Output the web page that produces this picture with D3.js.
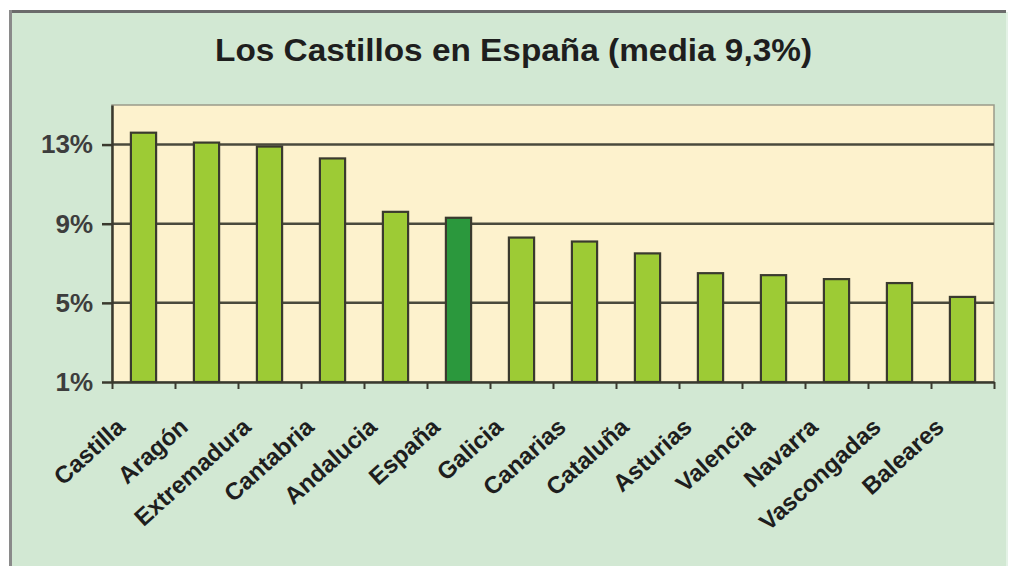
<!DOCTYPE html>
<html lang="es">
<head>
    <meta charset="UTF-8">
    <title>Los Castillos en España</title>
    <script src="https://d3js.org/d3.v7.min.js"></script>
    <style>
        body { margin: 0; background: #ffffff; }
        svg text { font-family: "Liberation Sans", Arial, sans-serif; }
    </style>
</head>
<body>

<div id="chart-container"></div>

<script>
    // data
    const categories = ["Castilla", "Aragón", "Extremadura", "Cantabria", "Andalucia", "España",
        "Galicia", "Canarias", "Cataluña", "Asturias", "Valencia", "Navarra", "Vascongadas", "Baleares"];
    const values = [13.6, 13.1, 12.9, 12.3, 9.6, 9.3, 8.3, 8.1, 7.5, 6.5, 6.4, 6.2, 6.0, 5.3];
    const highlighted = ["España"];
    const yTicks = [1, 5, 9, 13];
    const yTickLabels = ["1%", "5%", "9%", "13%"];
    const titleText = "Los Castillos en España (media 9,3%)";

    const width = 1011;
    const height = 566;
    const plot = { left: 112, right: 994, top: 105, bottom: 382 };

    const svg = d3.select("#chart-container")
        .append("svg")
        .attr("width", width)
        .attr("height", height);

    // outer panel
    svg.append("rect")
        .attr("x", 10).attr("y", 11)
        .attr("width", 996).attr("height", 560)
        .attr("fill", "#d2e8d3");
    svg.append("line")
        .attr("x1", 10).attr("x2", 1006).attr("y1", 11.5).attr("y2", 11.5)
        .attr("stroke", "#6b6b6b").attr("stroke-width", 3);
    svg.append("line")
        .attr("x1", 10.5).attr("x2", 10.5).attr("y1", 10).attr("y2", 566)
        .attr("stroke", "#8a8a8a").attr("stroke-width", 3);
    svg.append("line")
        .attr("x1", 1007).attr("x2", 1007).attr("y1", 12).attr("y2", 566)
        .attr("stroke", "#e4f2e6").attr("stroke-width", 2);

    // title
    svg.append("text")
        .attr("x", 215).attr("y", 61)
        .attr("textLength", 597)
        .attr("lengthAdjust", "spacingAndGlyphs")
        .attr("font-size", 32)
        .attr("font-weight", "bold")
        .attr("fill", "#1e1e1e")
        .text(titleText);

    // scales
    const x = d3.scaleBand()
        .domain(categories)
        .range([plot.left, plot.right])
        .padding(0);

    const xEdges = d3.scaleLinear()
        .domain([0, categories.length])
        .range([plot.left, plot.right]);

    const y = d3.scaleLinear()
        .domain([1, 15])
        .range([plot.bottom, plot.top]);

    // plot area
    svg.append("rect")
        .attr("x", plot.left).attr("y", plot.top)
        .attr("width", plot.right - plot.left)
        .attr("height", plot.bottom - plot.top)
        .attr("fill", "#fdf2cd")
        .attr("stroke", "#9a9a8a")
        .attr("stroke-width", 1.5);

    // gridlines
    svg.append("g")
        .selectAll("line")
        .data(yTicks.filter(d => d > 1))
        .join("line")
        .attr("x1", plot.left).attr("x2", plot.right)
        .attr("y1", d => y(d)).attr("y2", d => y(d))
        .attr("stroke", "#4a4a3c")
        .attr("stroke-width", 2.5);

    // bars
    const barW = x.bandwidth() * 0.4;
    svg.append("g")
        .selectAll("rect")
        .data(values)
        .join("rect")
        .attr("x", (d, i) => x(categories[i]) + (x.bandwidth() - barW) / 2)
        .attr("y", d => y(d))
        .attr("width", barW)
        .attr("height", d => y(1) - y(d))
        .attr("fill", (d, i) => highlighted.includes(categories[i]) ? "#2b983d" : "#9dcb35")
        .attr("stroke", "#3a3a2e")
        .attr("stroke-width", 2.2);

    // y axis
    const yAxis = svg.append("g")
        .attr("transform", `translate(${plot.left},0)`)
        .call(d3.axisLeft(y)
            .tickValues(yTicks)
            .tickFormat((d, i) => yTickLabels[i])
            .tickSizeInner(10)
            .tickSizeOuter(0)
            .tickPadding(9));
    yAxis.select(".domain").attr("stroke", "#3a3a2e").attr("stroke-width", 2.5);
    yAxis.selectAll(".tick line").attr("stroke", "#3a3a2e").attr("stroke-width", 2.5);
    yAxis.selectAll(".tick text")
        .attr("font-size", 26)
        .attr("font-weight", "bold")
        .attr("font-family", "Liberation Sans, Arial, sans-serif")
        .attr("fill", "#3d3d3d");

    // x axis: ticks between categories
    const xAxis = svg.append("g")
        .attr("transform", `translate(0,${plot.bottom})`)
        .call(d3.axisBottom(xEdges)
            .tickValues(d3.range(0, categories.length + 1))
            .tickFormat("")
            .tickSizeInner(7)
            .tickSizeOuter(0));
    xAxis.select(".domain").attr("stroke", "#3a3a2e").attr("stroke-width", 2.5);
    xAxis.selectAll(".tick line").attr("stroke", "#3a3a2e").attr("stroke-width", 2);

    // category labels
    svg.append("g")
        .selectAll("text")
        .data(categories)
        .join("text")
        .attr("transform", d => `translate(${x(d) + x.bandwidth() / 2 - 17},${plot.bottom + 47}) rotate(-42)`)
        .attr("text-anchor", "end")
        .attr("font-size", 24)
        .attr("font-weight", "bold")
        .attr("fill", "#1e1e1e")
        .text(d => d);
</script>
</body>
</html>
